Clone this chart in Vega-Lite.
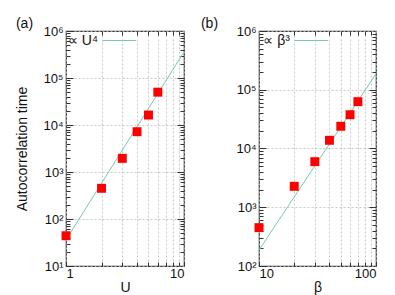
{
  "$schema": "https://vega.github.io/schema/vega-lite/v6.json",
  "padding": {"left": 15, "top": 16, "right": 5, "bottom": 1},
  "config": {
    "font": "Liberation Sans",
    "view": {"stroke": "#333", "strokeWidth": 1.2},
    "axis": {"labelFont": "Liberation Sans", "labelFontSize": 13, "labelColor": "#111", "titleFont": "Liberation Sans", "titleFontSize": 14, "titleFontWeight": "normal", "titleColor": "#111", "domain": false, "tickColor": "#333", "gridColor": "#bbb", "gridDash": [2, 2], "gridWidth": 0.8},
    "title": {"font": "Liberation Sans", "fontSize": 14, "fontWeight": "normal", "color": "#111"},
    "legend": {"labelFont": "Liberation Sans", "labelFontSize": 14, "labelColor": "#111"},
    "concat": {"spacing": 13}
  },
  "resolve": {"scale": {"color": "independent"}, "legend": {"color": "independent"}},
  "hconcat": [
    {
      "width": 118,
      "height": 235,
      "title": {"text": "(a)", "anchor": "start", "frame": "bounds", "offset": -8},
      "layer": [
        {
          "data": {"values": [
            {"U": 1, "tau": 36, "series": "∝ U⁴"},
            {"U": 10, "tau": 360000, "series": "∝ U⁴"}
          ]},
          "mark": {"type": "line", "strokeWidth": 1},
          "encoding": {
            "x": {"field": "U", "type": "quantitative", "scale": {"type": "log", "domain": [1, 10]},
              "axis": {"orient": "bottom", "values": [1, 2, 3, 4, 5, 6, 7, 8, 9, 10], "grid": true, "title": "U", "labelExpr": "(datum.value == 1 || datum.value == 10) ? datum.label : ''", "tickSize": -4, "labelPadding": 5, "titlePadding": 0}},
            "y": {"field": "tau", "type": "quantitative", "scale": {"type": "log", "domain": [10, 1000000]},
              "axis": {"orient": "left", "values": [10,20,30,40,50,60,70,80,90,100,200,300,400,500,600,700,800,900,1000,2000,3000,4000,5000,6000,7000,8000,9000,10000,20000,30000,40000,50000,60000,70000,80000,90000,100000,200000,300000,400000,500000,600000,700000,800000,900000,1000000],
                "grid": true,
                "gridOpacity": {"condition": {"test": "abs(log(datum.value)/LN10 - round(log(datum.value)/LN10)) < 0.01", "value": 1}, "value": 0},
                "tickSize": {"condition": {"test": "abs(log(datum.value)/LN10 - round(log(datum.value)/LN10)) < 0.01", "value": -7}, "value": -4},
                "labelExpr": "abs(log(datum.value)/LN10 - round(log(datum.value)/LN10)) < 0.01 ? '10' + ['⁰','¹','²','³','⁴','⁵','⁶'][round(log(datum.value)/LN10)] : ''",
                "labelPadding": 10, "title": "Autocorrelation time", "titlePadding": 13}},
            "color": {"field": "series", "type": "nominal", "scale": {"range": ["#74c9b0"]},
              "legend": {"title": null, "orient": "none", "legendX": 36, "legendY": -8, "symbolType": "stroke", "symbolSize": 1100, "symbolStrokeWidth": 1, "labelAlign": "right", "labelOffset": -39, "padding": 0}}
          }
        },
        {
          "data": {"values": [
            {"U": 1, "tau": 44},
            {"U": 2, "tau": 450},
            {"U": 3, "tau": 1950},
            {"U": 4, "tau": 7200},
            {"U": 5, "tau": 16300},
            {"U": 6, "tau": 50000}
          ]},
          "mark": {"type": "point", "shape": "square", "filled": true, "color": "#ff0000", "opacity": 1, "size": 80},
          "encoding": {
            "x": {"field": "U", "type": "quantitative", "scale": {"type": "log", "domain": [1, 10]},
              "axis": {"orient": "top", "values": [2, 3, 4, 5, 6, 7, 8, 9], "grid": false, "labels": false, "title": null, "tickSize": -4}},
            "y": {"field": "tau", "type": "quantitative", "scale": {"type": "log", "domain": [10, 1000000]},
              "axis": {"orient": "right", "values": [20,30,40,50,60,70,80,90,100,200,300,400,500,600,700,800,900,1000,2000,3000,4000,5000,6000,7000,8000,9000,10000,20000,30000,40000,50000,60000,70000,80000,90000,100000,200000,300000,400000,500000,600000,700000,800000,900000],
                "grid": false, "labels": false, "title": null,
                "tickSize": {"condition": {"test": "abs(log(datum.value)/LN10 - round(log(datum.value)/LN10)) < 0.01", "value": -7}, "value": -4}}}
          }
        }
      ],
      "resolve": {"axis": {"x": "independent", "y": "independent"}}
    },
    {
      "width": 117,
      "height": 235,
      "title": {"text": "(b)", "anchor": "start", "frame": "bounds", "offset": -8, "dx": -35},
      "layer": [
        {
          "data": {"values": [
            {"beta": 10, "tau": 187, "series": "∝ β³"},
            {"beta": 100, "tau": 187000, "series": "∝ β³"}
          ]},
          "mark": {"type": "line", "strokeWidth": 1},
          "encoding": {
            "x": {"field": "beta", "type": "quantitative", "scale": {"type": "log", "domain": [10, 100]},
              "axis": {"orient": "bottom", "values": [10, 20, 30, 40, 50, 60, 70, 80, 90, 100], "grid": true, "title": "β", "labelExpr": "(datum.value == 10 || datum.value == 100) ? datum.label : ''", "tickSize": -4, "labelPadding": 5, "titlePadding": 0}},
            "y": {"field": "tau", "type": "quantitative", "scale": {"type": "log", "domain": [100, 1000000]},
              "axis": {"orient": "left", "values": [100,200,300,400,500,600,700,800,900,1000,2000,3000,4000,5000,6000,7000,8000,9000,10000,20000,30000,40000,50000,60000,70000,80000,90000,100000,200000,300000,400000,500000,600000,700000,800000,900000,1000000],
                "grid": true,
                "gridOpacity": {"condition": {"test": "abs(log(datum.value)/LN10 - round(log(datum.value)/LN10)) < 0.01", "value": 1}, "value": 0},
                "tickSize": {"condition": {"test": "abs(log(datum.value)/LN10 - round(log(datum.value)/LN10)) < 0.01", "value": -7}, "value": -4},
                "labelExpr": "abs(log(datum.value)/LN10 - round(log(datum.value)/LN10)) < 0.01 ? '10' + ['⁰','¹','²','³','⁴','⁵','⁶'][round(log(datum.value)/LN10)] : ''",
                "labelPadding": 10, "title": null}},
            "color": {"field": "series", "type": "nominal", "scale": {"range": ["#74c9b0"]},
              "legend": {"title": null, "orient": "none", "legendX": 35, "legendY": -8, "symbolType": "stroke", "symbolSize": 1100, "symbolStrokeWidth": 1, "labelAlign": "right", "labelOffset": -39, "padding": 0}}
          }
        },
        {
          "data": {"values": [
            {"beta": 10, "tau": 450},
            {"beta": 20, "tau": 2270},
            {"beta": 30, "tau": 5970},
            {"beta": 40, "tau": 13800},
            {"beta": 50, "tau": 23900},
            {"beta": 60, "tau": 37600},
            {"beta": 70, "tau": 62700}
          ]},
          "mark": {"type": "point", "shape": "square", "filled": true, "color": "#ff0000", "opacity": 1, "size": 80},
          "encoding": {
            "x": {"field": "beta", "type": "quantitative", "scale": {"type": "log", "domain": [10, 100]},
              "axis": {"orient": "top", "values": [20, 30, 40, 50, 60, 70, 80, 90], "grid": false, "labels": false, "title": null, "tickSize": -4}},
            "y": {"field": "tau", "type": "quantitative", "scale": {"type": "log", "domain": [100, 1000000]},
              "axis": {"orient": "right", "values": [200,300,400,500,600,700,800,900,1000,2000,3000,4000,5000,6000,7000,8000,9000,10000,20000,30000,40000,50000,60000,70000,80000,90000,100000,200000,300000,400000,500000,600000,700000,800000,900000],
                "grid": false, "labels": false, "title": null,
                "tickSize": {"condition": {"test": "abs(log(datum.value)/LN10 - round(log(datum.value)/LN10)) < 0.01", "value": -7}, "value": -4}}}
          }
        }
      ],
      "resolve": {"axis": {"x": "independent", "y": "independent"}}
    }
  ]
}
